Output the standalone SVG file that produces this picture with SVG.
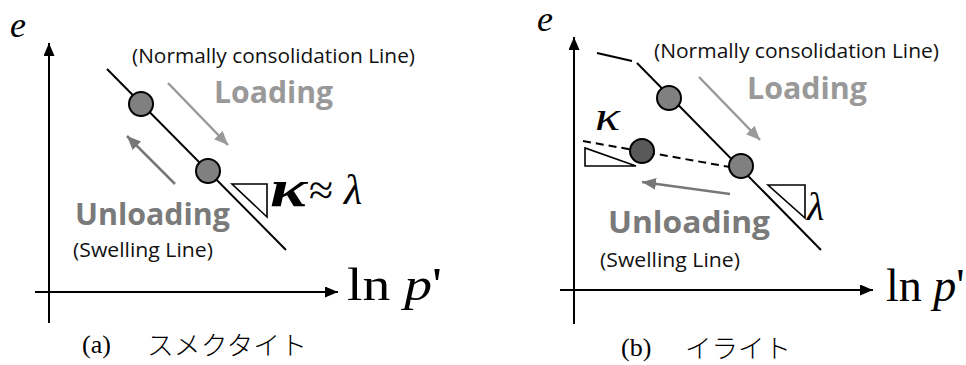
<svg xmlns="http://www.w3.org/2000/svg" width="966" height="365" viewBox="0 0 966 365">
<defs>
<style>
.axis{stroke:#000;stroke-width:2;fill:none}
.line{stroke:#000;stroke-width:2;fill:none}
.dash{stroke:#000;stroke-width:2;fill:none;stroke-dasharray:8 5}
.tri{stroke:#000;stroke-width:1.6;fill:#fff}
.pt{fill:#808080;stroke:#000;stroke-width:2}
.ptd{fill:#595959;stroke:#000;stroke-width:2}
.ld{stroke:#999;stroke-width:2.5;fill:none}
.ul{stroke:#777;stroke-width:2.5;fill:none}
.note{font-family:"Open Sans","Noto Sans",sans-serif;font-size:20px;fill:#111}
.big{font-family:"Open Sans","Noto Sans",sans-serif;font-size:31px;font-weight:bold}
.math{font-family:"Liberation Serif",serif;font-style:italic;fill:#000}
.rm{font-family:"Liberation Serif",serif;fill:#000}
.cap{font-family:"Liberation Serif","Noto Sans CJK JP",serif;font-size:26px;fill:#000}
.kana{font-family:"Noto Sans CJK JP",sans-serif;font-size:26px;font-weight:300;fill:#000}
</style>
<marker id="ah" markerUnits="userSpaceOnUse" markerWidth="13" markerHeight="11" refX="13" refY="5.5" orient="auto"><path d="M0,0 L13,5.5 L0,11 z" fill="#000"/></marker>
<marker id="ahL" markerUnits="userSpaceOnUse" markerWidth="14" markerHeight="12" refX="14" refY="6" orient="auto"><path d="M0,0 L14,6 L0,12 z" fill="#999"/></marker>
<marker id="ahU" markerUnits="userSpaceOnUse" markerWidth="14" markerHeight="12" refX="14" refY="6" orient="auto"><path d="M0,0 L14,6 L0,12 z" fill="#777"/></marker>
</defs>
<rect width="966" height="365" fill="#fff"/>

<!-- Panel (a) -->
<g id="a-axes">
<line class="axis" x1="49" y1="323" x2="49" y2="43" marker-end="url(#ah)"/>
<line class="axis" x1="35" y1="292" x2="338" y2="292" marker-end="url(#ah)"/>
<text class="math" x="10" y="37" font-size="36">e</text>
<text class="rm" x="347" y="300" font-size="46" textLength="95" lengthAdjust="spacingAndGlyphs">ln <tspan class="math">p</tspan>'</text>
</g>
<g id="a-ncl">
<line class="line" x1="107" y1="69" x2="286" y2="250"/>
</g>
<g id="a-slope">
<polygon class="tri" points="232,184 267,184 267,217"/>
<text class="math" x="270" y="206" font-size="52" font-weight="bold" textLength="37" lengthAdjust="spacingAndGlyphs">κ</text>
<text class="rm" x="309" y="205" font-size="44">≈</text>
<text class="math" x="344" y="204" font-size="42">λ</text>
</g>
<g id="a-pt1"><circle class="pt" cx="141" cy="104" r="12"/></g>
<g id="a-pt2"><circle class="pt" cx="208" cy="171" r="12"/></g>
<g id="a-labels">
<text class="note" x="132" y="63" textLength="283" lengthAdjust="spacingAndGlyphs">(Normally consolidation Line)</text>
<text class="big" x="214" y="103" fill="#999" textLength="119" lengthAdjust="spacingAndGlyphs">Loading</text>
<text class="big" x="75" y="225" fill="#7a7a7a" textLength="155" lengthAdjust="spacingAndGlyphs">Unloading</text>
<text class="note" x="73" y="257" textLength="140" lengthAdjust="spacingAndGlyphs">(Swelling Line)</text>
</g>
<g id="a-caption">
<text class="cap" x="82" y="353">(a)</text>
<text class="kana" x="147" y="355" textLength="160" lengthAdjust="spacingAndGlyphs">スメクタイト</text>
</g>

<!-- Panel (b) -->
<g id="b-axes">
<line class="axis" x1="574" y1="324" x2="574" y2="37" marker-end="url(#ah)"/>
<line class="axis" x1="560" y1="290" x2="873" y2="290" marker-end="url(#ah)"/>
<text class="math" x="537" y="31" font-size="36">e</text>
<text class="rm" x="886" y="301" font-size="46">ln <tspan class="math">p</tspan>'</text>
</g>
<g id="b-ncl">
<line class="line" x1="597" y1="53" x2="632" y2="61"/>
<line class="line" x1="637" y1="63" x2="821" y2="250"/>
</g>
<g id="b-swell">
<line class="dash" x1="583" y1="141" x2="730" y2="167"/>
</g>
<g id="b-kappa">
<polygon class="tri" points="585,148 585,166 636,166"/>
<text class="math" x="595" y="130" font-size="42" textLength="25" lengthAdjust="spacingAndGlyphs">κ</text>
</g>
<g id="b-lambda">
<polygon class="tri" points="768,185 805,185 805,218"/>
<text class="math" x="807" y="220" font-size="40">λ</text>
</g>
<g id="b-pt1"><circle class="pt" cx="669" cy="98" r="12"/></g>
<g id="b-pt2"><circle class="pt" cx="741" cy="166" r="12"/></g>
<g id="b-pt3"><circle class="ptd" cx="642" cy="151" r="12"/></g>
<g id="b-labels">
<text class="note" x="654" y="58" textLength="285" lengthAdjust="spacingAndGlyphs">(Normally consolidation Line)</text>
<text class="big" x="747" y="99" fill="#999" textLength="120" lengthAdjust="spacingAndGlyphs">Loading</text>
<text class="big" x="608" y="233" fill="#7a7a7a" textLength="162" lengthAdjust="spacingAndGlyphs">Unloading</text>
<text class="note" x="600" y="267" textLength="140" lengthAdjust="spacingAndGlyphs">(Swelling Line)</text>
</g>
<g id="b-caption">
<text class="cap" x="621" y="356">(b)</text>
<text class="kana" x="685" y="358" textLength="106" lengthAdjust="spacingAndGlyphs">イライト</text>
</g>

<g id="connectors">
<line class="ld" x1="168" y1="83" x2="228" y2="145" marker-end="url(#ahL)"/>
<line class="ul" x1="175" y1="184" x2="127" y2="136" marker-end="url(#ahU)"/>
<line class="ld" x1="699" y1="77" x2="760" y2="140" marker-end="url(#ahL)"/>
<line class="ul" x1="730" y1="194" x2="642" y2="182" marker-end="url(#ahU)"/>
</g>
</svg>
